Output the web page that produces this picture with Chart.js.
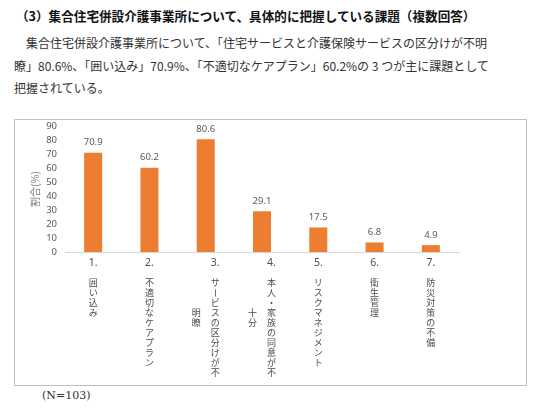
<!DOCTYPE html>
<html lang="ja">
<head>
<meta charset="utf-8">
<script src="https://cdn.jsdelivr.net/npm/chart.js@4"></script>
<style>
  body { margin: 0; background: #fff; font-family: "Noto Sans CJK JP", sans-serif; }
  #page { position: relative; width: 560px; height: 420px; overflow: hidden; }
  #heading { position: absolute; left: 16px; top: 7px; font-size: 12.6px; line-height: 18px; font-weight: bold; color: #111; white-space: nowrap; }
  #para { position: absolute; left: 14px; top: 32px; font-size: 12px; line-height: 22.5px; color: #333; white-space: nowrap; }
  #box { position: absolute; left: 14px; top: 119px; width: 513px; height: 267px; border: 1.5px solid #bfbfbf; box-sizing: border-box; }
  #wrap { position: absolute; left: 15px; top: 120px; width: 511px; height: 265px; }
  #note { position: absolute; left: 42px; top: 389px; font-size: 11px; color: #333; font-family: "DejaVu Serif", serif; }
</style>
</head>
<body>
<div id="page">
  <div id="heading">（3）集合住宅併設介護事業所について、具体的に把握している課題（複数回答）</div>
  <div id="para">&#12288;集合住宅併設介護事業所について、「住宅サービスと介護保険サービスの区分けが不明<br>瞭」80.6%、「囲い込み」70.9%、「不適切なケアプラン」60.2%の 3 つが主に課題として<br>把握されている。</div>
  <div id="box"></div>
  <div id="wrap"><canvas id="chart"></canvas></div>
  <div id="note">(N=103)</div>
</div>
<script>
const labelNums = ['1.', '2.', '3.', '4.', '5.', '6.', '7.'];
const labelCols = [
  ['囲い込み'],
  ['不適切なケアプラン'],
  ['サービスの区分けが不', '明瞭'],
  ['本人・家族の同意が不', '十分'],
  ['リスクマネジメント'],
  ['衛生管理'],
  ['防災対策の不備']
];
const values = [70.9, 60.2, 80.6, 29.1, 17.5, 6.8, 4.9];
const yMax = 90;
const yStep = 10;

// value labels above the bars
const valueLabels = {
  id: 'valueLabels',
  afterDatasetsDraw(chart) {
    const ctx = chart.ctx;
    const meta = chart.getDatasetMeta(0);
    ctx.save();
    ctx.font = '9.5px "Noto Sans", sans-serif';
    ctx.fillStyle = '#595959';
    ctx.textAlign = 'center';
    ctx.textBaseline = 'middle';
    meta.data.forEach((bar, i) => {
      ctx.fillText(values[i].toFixed(1), bar.x, bar.y - 10);
    });
    ctx.restore();
  }
};

// vertical (tategaki) category labels under the axis
const verticalLabels = {
  id: 'verticalLabels',
  afterDraw(chart) {
    const ctx = chart.ctx;
    const xs = chart.scales.x;
    const top = xs.top;
    ctx.save();
    ctx.fillStyle = '#4d4d4d';
    ctx.textAlign = 'center';
    ctx.textBaseline = 'middle';
    labelNums.forEach((num, i) => {
      const cx = xs.getPixelForValue(i);
      const cols = labelCols[i];
      const colGap = 19;
      const firstX = cols.length > 1 ? cx + colGap / 2 : cx;
      ctx.font = '10.5px "Noto Sans", sans-serif';
      ctx.fillText(num, firstX, top + 11);
      ctx.font = '9px "Noto Sans CJK JP", sans-serif';
      cols.forEach((col, c) => {
        const x = firstX - c * colGap;
        const startRow = c === 0 ? 0 : 3;
        Array.from(col).forEach((ch, r) => {
          const y = top + 31 + (startRow + r) * 10;
          if (ch === 'ー') {
            ctx.save();
            ctx.translate(x, y);
            ctx.rotate(Math.PI / 2);
            ctx.fillText(ch, 0, 0);
            ctx.restore();
          } else {
            ctx.fillText(ch, x, y);
          }
        });
      });
    });
    ctx.restore();
  }
};

new Chart(document.getElementById('chart'), {
  type: 'bar',
  data: {
    labels: labelNums,
    datasets: [{
      data: values,
      backgroundColor: '#ED7D31',
      categoryPercentage: 1,
      barPercentage: 0.32
    }]
  },
  options: {
    responsive: true,
    maintainAspectRatio: false,
    animation: false,
    layout: { padding: { top: 6, right: 67, left: 10, bottom: 0 } },
    plugins: { legend: { display: false }, tooltip: { enabled: false } },
    scales: {
      x: {
        grid: { drawOnChartArea: false, drawTicks: false },
        border: { color: '#d9d9d9', width: 1 },
        ticks: { display: false },
        afterFit: s => { s.height = 133; }
      },
      y: {
        min: 0,
        max: yMax,
        grid: { display: false, drawTicks: false },
        border: { display: false },
        ticks: {
          stepSize: yStep,
          autoSkip: false,
          color: '#595959',
          padding: 8,
          font: { size: 9.5, family: '"Noto Sans", sans-serif' }
        },
        title: {
          display: true,
          text: '割合(%)',
          color: '#7f7f7f',
          padding: { top: 4, bottom: 0 },
          font: { size: 10, family: '"Noto Sans CJK JP", sans-serif' }
        },
        afterFit: s => {
          s.width = 40;
          s.paddingTop = 0;
          s.paddingBottom = 0;
        }
      }
    }
  },
  plugins: [valueLabels, verticalLabels]
});
</script>
</body>
</html>
